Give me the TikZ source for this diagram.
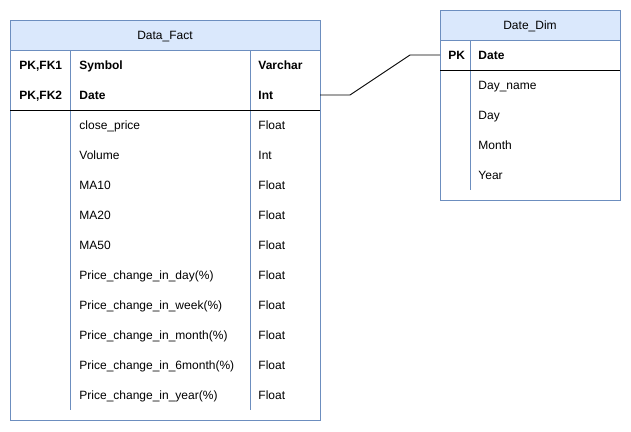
\documentclass[tikz,border=0pt]{standalone}
\usepackage{fontspec}
\setmainfont{Liberation Sans}
\usetikzlibrary{positioning}
\definecolor{bordeazul}{HTML}{6C8EBF}
\definecolor{fondoazul}{HTML}{DAE8FC}

\begin{document}
\begin{tikzpicture}[x=1pt,y=-1pt,line width=0.9pt,
    font=\fontsize{12}{14}\selectfont,
    cabecera/.style={draw=bordeazul,fill=fondoazul,inner sep=0pt,minimum height=30pt,
        text height=8.6pt,text depth=0pt},
    campo/.style={anchor=base west,inner sep=0pt},
    clave/.style={campo,font=\fontsize{12}{14}\selectfont\bfseries}]
    \useasboundingbox (0,0) rectangle (631,431);

    % ---- Tabla de hechos ----
    \draw[bordeazul] (10,20) rectangle (320,420);
    \node[cabecera,minimum width=310pt] (fact) at (165,35) {Data\_Fact};
    \draw[bordeazul] (70,50) -- (70,410);
    \draw[bordeazul] (250,50) -- (250,410);
    \draw[black] (10,110) -- (320,110);

    % ---- Claves ----
    \node[clave] (factk1) at (19,69) {PK,FK1};
    \node[clave] (factn1) at (79,69) {Symbol};
    \node[clave] (factt1) at (258,69) {Varchar};
    \node[clave] (factk2) at (19,99) {PK,FK2};
    \node[clave] (factn2) at (79,99) {Date};
    \node[clave] (factt2) at (258,99) {Int};

    % ---- Campos ----
    \foreach \nombre/\tipo [count=\i] in {close\_price/Float,Volume/Int,MA10/Float,
        MA20/Float,MA50/Float,Price\_change\_in\_day(\%)/Float,
        Price\_change\_in\_week(\%)/Float,Price\_change\_in\_month(\%)/Float,
        Price\_change\_in\_6month(\%)/Float,Price\_change\_in\_year(\%)/Float}{
        \node[campo] (factn\i) at (79,{99+30*\i}) {\nombre};
        \node[campo] (factt\i) at (258,{99+30*\i}) {\tipo};
    }

    % ---- Dimension fecha ----
    \draw[bordeazul] (440,10) rectangle (620,200);
    \node[cabecera,minimum width=180pt] (dim) at (530,25) {Date\_Dim};
    \draw[bordeazul] (470,40) -- (470,190);
    \draw[black] (440,70) -- (620,70);
    \node[clave] (dimk) at (448,59) {PK};
    \node[clave] (dimn) at (478,59) {Date};
    \foreach \nombre [count=\i] in {Day\_name,Day,Month,Year}{
        \node[campo] (dimc\i) at (478,{59+30*\i}) {\nombre};
    }

    % ---- Relacion ----
    \coordinate (factDate) at (320,95);
    \coordinate (dimDate) at (440,55);
    \draw[black] (factDate) -- ++(30,0) -- ++(60,-40) -- (dimDate);

\end{tikzpicture}
\end{document}
